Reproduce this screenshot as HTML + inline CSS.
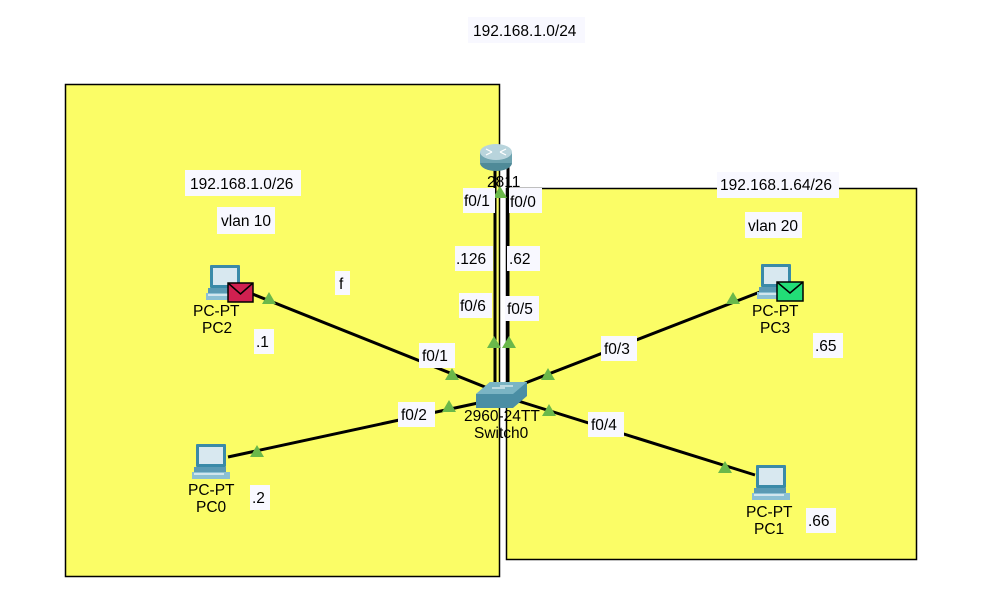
<!DOCTYPE html>
<html><head><meta charset="utf-8"><style>
html,body{margin:0;padding:0;background:#fff;}
svg text{font-family:"Liberation Sans",sans-serif;font-size:15.5px;fill:#000;}
</style></head><body>
<svg width="995" height="601" viewBox="0 0 995 601" xmlns="http://www.w3.org/2000/svg">
<defs>
<g id="pc">
 <rect x="4" y="0" width="30" height="23" fill="#3a8aa8" rx="1"/>
 <rect x="7" y="3" width="24" height="17" fill="#d8e8f0"/>
 <rect x="2" y="23" width="32" height="5" fill="#5a9ab4"/>
 <rect x="0" y="28" width="38" height="7" fill="#8cc0d4"/>
 <rect x="2" y="29" width="30" height="2" fill="#fff" opacity="0.6"/>
</g>
<g id="tri"><polygon points="0,-7 7,5 -7,5" fill="#6ab84a"/></g>
</defs>
<rect x="0" y="0" width="995" height="601" fill="#fff"/>
<rect x="65.5" y="84.5" width="434" height="492" fill="#fbfd66" stroke="#000" stroke-width="1.5"/>
<rect x="506.5" y="188.5" width="410" height="371" fill="#fbfd66" stroke="#000" stroke-width="1.5"/>

<g stroke="#000" stroke-width="3">
<line x1="245" y1="291" x2="500" y2="393"/>
<line x1="228" y1="457" x2="492" y2="400"/>
<line x1="760" y1="292" x2="515" y2="387"/>
<line x1="755" y1="475" x2="515" y2="400"/>
<line x1="495" y1="165" x2="495" y2="390"/>
<line x1="508" y1="165" x2="508" y2="390"/>
</g>

<!-- router -->
<ellipse cx="496" cy="163" rx="16" ry="8" fill="#4f8a98"/>
<rect x="480" y="152" width="32" height="11" fill="#6fa4b0"/>
<ellipse cx="496" cy="152" rx="16" ry="8" fill="#b8d4dc"/>
<g stroke="#fff" stroke-width="1.2"><line x1="486" y1="149" x2="492" y2="152"/><line x1="500" y1="152" x2="506" y2="149"/><line x1="486" y1="155" x2="492" y2="152"/><line x1="500" y1="152" x2="506" y2="155"/></g>
<text x="487" y="187">2811</text>

<!-- switch -->
<polygon points="476,394 490,382 527,382 527,396 513,408 476,408" fill="#4a8ea4"/>
<polygon points="476,394 490,382 527,382 513,394" fill="#7ab4c4"/>
<line x1="492" y1="388" x2="505" y2="388" stroke="#fff" stroke-width="1"/>
<line x1="500" y1="386" x2="513" y2="386" stroke="#fff" stroke-width="1"/>
<text x="464" y="421">2960-24TT</text>
<text x="474" y="438">Switch0</text>

<use href="#pc" x="206" y="265"/>
<rect x="228" y="283" width="25" height="19" fill="#d02050" stroke="#000" stroke-width="1.5"/>
<polyline points="228,283 240.5,294 253,283" fill="none" stroke="#000" stroke-width="1.5"/>
<text x="193" y="316">PC-PT</text><text x="202" y="333">PC2</text>

<use href="#pc" x="192" y="444"/>
<text x="188" y="495">PC-PT</text><text x="196" y="512">PC0</text>

<use href="#pc" x="757" y="264"/>
<rect x="777" y="282" width="26" height="19" fill="#22dd77" stroke="#000" stroke-width="1.5"/>
<polyline points="777,282 790,293 803,282" fill="none" stroke="#000" stroke-width="1.5"/>
<text x="752" y="316">PC-PT</text><text x="760" y="333">PC3</text>

<use href="#pc" x="752" y="465"/>
<text x="746" y="517">PC-PT</text><text x="754" y="534">PC1</text>

<use href="#tri" x="269" y="299"/>
<use href="#tri" x="257" y="452"/>
<use href="#tri" x="452" y="375"/>
<use href="#tri" x="449" y="407"/>
<use href="#tri" x="494" y="343"/>
<use href="#tri" x="509" y="343"/>
<use href="#tri" x="548" y="375"/>
<use href="#tri" x="549" y="411"/>
<use href="#tri" x="733" y="299"/>
<use href="#tri" x="725" y="468"/>
<use href="#tri" x="500" y="193"/>

<g fill="#f8f8ff">
<rect x="468" y="17" width="117" height="26"/>
<rect x="185" y="170" width="116" height="26"/>
<rect x="217" y="207" width="58" height="27"/>
<rect x="335" y="271" width="15" height="24"/>
<rect x="254" y="329" width="20" height="25"/>
<rect x="250" y="485" width="20" height="25"/>
<rect x="419" y="343" width="36" height="25"/>
<rect x="398" y="402" width="37" height="25"/>
<rect x="601" y="336" width="36" height="25"/>
<rect x="588" y="412" width="36" height="25"/>
<rect x="813" y="333" width="30" height="25"/>
<rect x="806" y="508" width="30" height="25"/>
<rect x="745" y="212" width="57" height="26"/>
<rect x="717" y="172" width="122" height="26"/>
<rect x="463" y="188" width="32" height="25"/>
<rect x="509" y="188" width="33" height="25"/>
<rect x="455" y="246" width="38" height="25"/>
<rect x="507" y="246" width="33" height="25"/>
<rect x="459" y="293" width="33" height="25"/>
<rect x="505" y="296" width="34" height="25"/>
</g>
<text x="473" y="36">192.168.1.0/24</text>
<text x="190" y="189">192.168.1.0/26</text>
<text x="221" y="226">vlan 10</text>
<text x="339" y="289">f</text>
<text x="256" y="347">.1</text>
<text x="252" y="503">.2</text>
<text x="422" y="361">f0/1</text>
<text x="401" y="420">f0/2</text>
<text x="604" y="354">f0/3</text>
<text x="591" y="430">f0/4</text>
<text x="815" y="351">.65</text>
<text x="808" y="526">.66</text>
<text x="748" y="231">vlan 20</text>
<text x="720" y="190">192.168.1.64/26</text>
<text x="464" y="206">f0/1</text>
<text x="510" y="207">f0/0</text>
<text x="456" y="264">.126</text>
<text x="509" y="264">.62</text>
<text x="460" y="311">f0/6</text>
<text x="507" y="314">f0/5</text>
</svg>
</body></html>
